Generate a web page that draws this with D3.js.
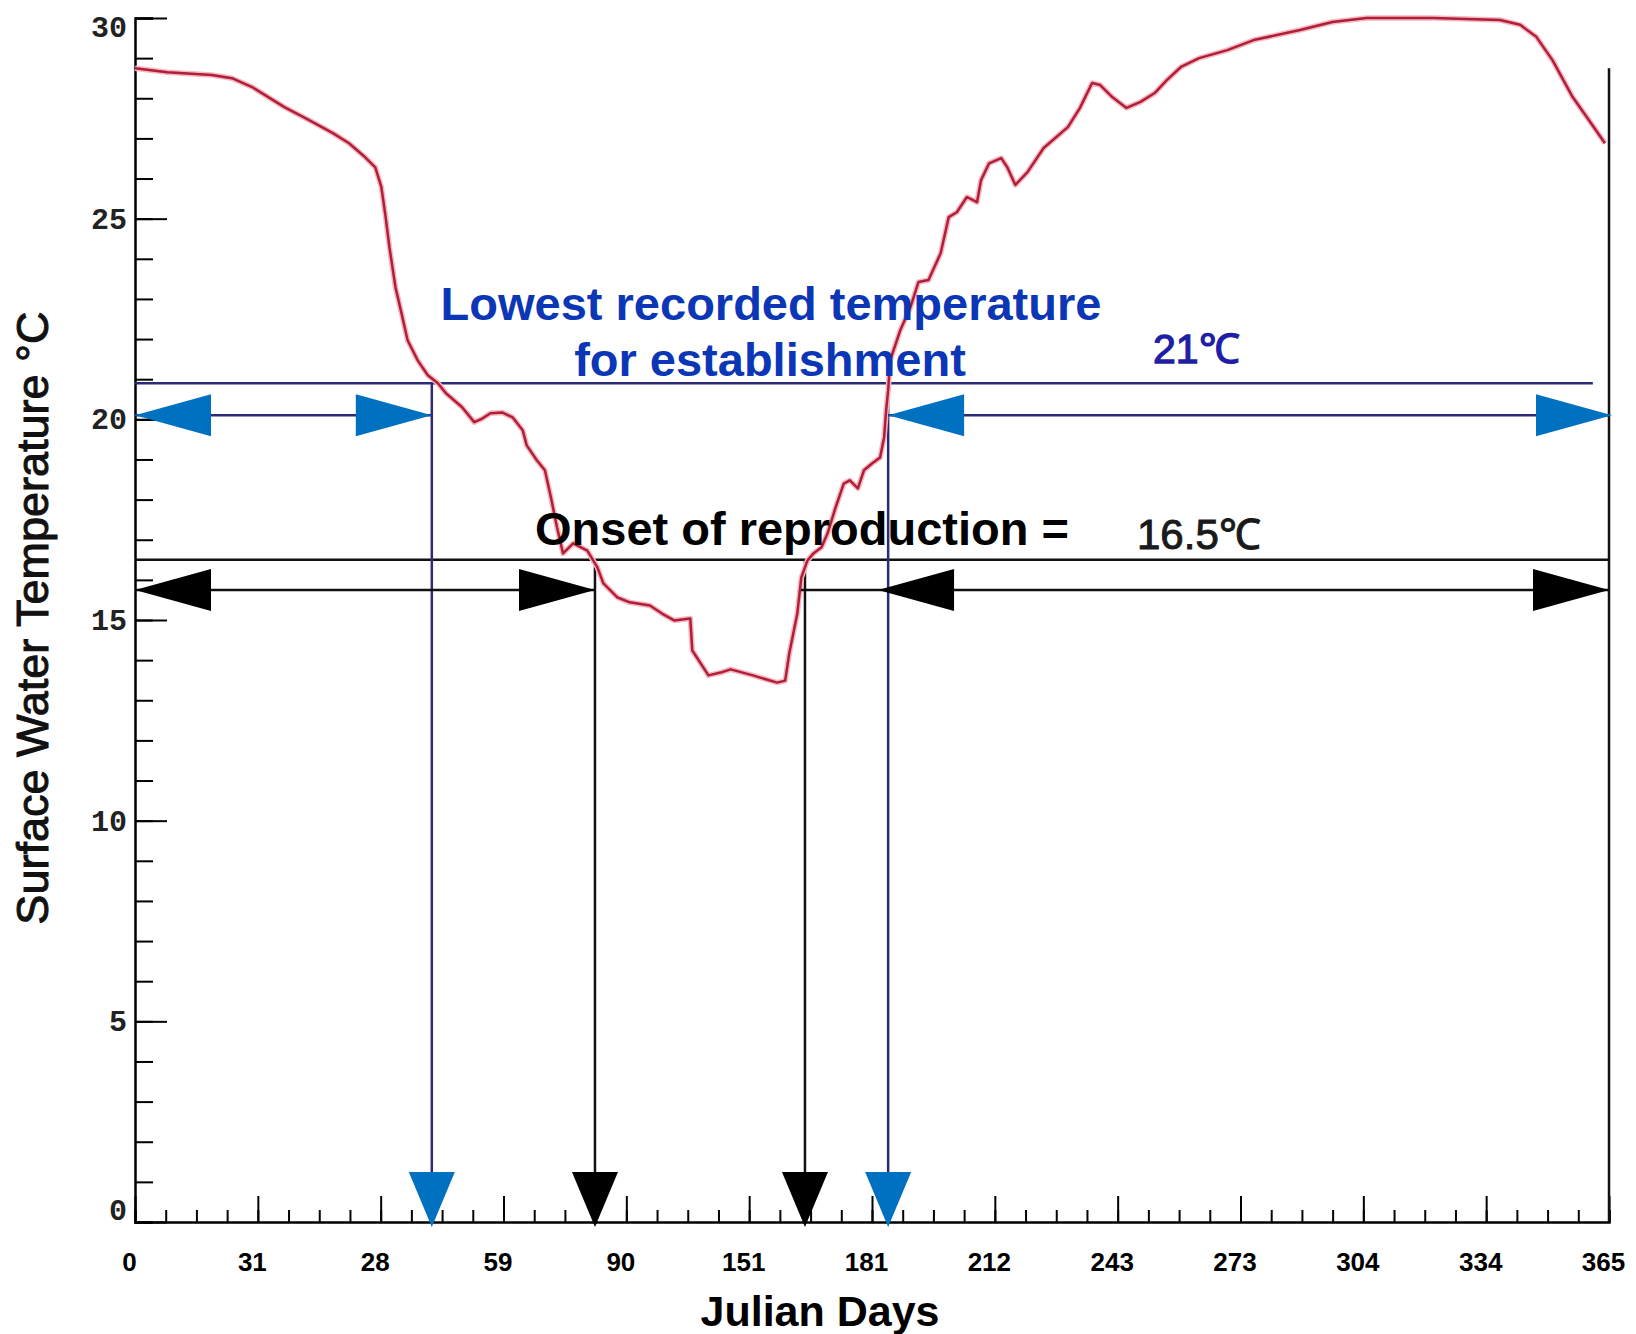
<!DOCTYPE html>
<html>
<head>
<meta charset="utf-8">
<script src="https://cdn.jsdelivr.net/npm/d3@7"></script>
<style>
  body { margin: 0; background: #fff; }
  svg { display: block; }
</style>
</head>
<body>
<div id="chart"></div>
<script>
// surface water temperature over the year (Julian day, degrees C)
var days  = [0, 8, 19, 24, 29, 37, 43, 49, 53, 57, 59.5, 61, 62, 63, 64.5, 66, 67.5, 70, 72.5, 75,
             77, 81, 84, 86, 88, 91, 93.5, 96, 97, 99.5, 101.5, 103, 104.5, 106, 108.5, 112, 114.5, 116,
             119.5, 122.5, 127.5, 130.5, 133.5, 137.5, 138, 142, 145, 147.5, 153, 159, 161, 162, 164, 165,
             166.5, 168, 170, 171.5, 173.5, 175.5, 177, 179, 180.5, 182.5, 184.5, 185.5, 186, 186.5, 187,
             189.5, 192, 194, 196.5, 199.5, 201.5, 203.5, 206, 208.5, 209.5, 211.5, 214.5, 216, 218, 221,
             225, 231, 234, 237, 239, 242, 245.5, 249, 252.5, 255.5, 259, 263.5, 270.5, 277, 288.5, 296.5,
             305, 321.5, 338, 343, 347, 351, 356, 360, 364];
var temps = [28.75, 28.65, 28.58, 28.5, 28.28, 27.78, 27.46, 27.13, 26.88, 26.53, 26.28, 25.79, 25.09,
             24.29, 23.29, 22.64, 21.97, 21.47, 21.1, 20.9, 20.65, 20.3, 19.93, 20.02, 20.15, 20.17, 20.05,
             19.73, 19.35, 18.98, 18.73, 18.05, 17.31, 16.66, 16.91, 16.73, 16.31, 15.91, 15.56, 15.44,
             15.36, 15.16, 14.99, 15.04, 14.24, 13.62, 13.69, 13.77, 13.62, 13.44, 13.49, 14.16, 15.16,
             16.06, 16.48, 16.66, 16.81, 17.16, 17.81, 18.4, 18.48, 18.28, 18.73, 18.9, 19.05, 19.55, 20.22,
             20.72, 21.47, 22.22, 22.79, 23.42, 23.47, 24.14, 25.04, 25.16, 25.54, 25.41, 25.96, 26.38,
             26.51, 26.28, 25.84, 26.16, 26.76, 27.28, 27.76, 28.38, 28.33, 28.03, 27.76, 27.91, 28.13,
             28.45, 28.78, 29.0, 29.2, 29.45, 29.7, 29.9, 30.0, 30.0, 29.95, 29.83, 29.53, 28.95, 28.03,
             27.46, 26.88];

// axis labels (as printed on the original figure)
var x_labels = ['0', '31', '28', '59', '90', '151', '181', '212', '243', '273', '304', '334', '365'];
var y_labels = [0, 5, 10, 15, 20, 25, 30];

// thresholds
var establish_temp  = 20.9;          // drawn "21°C" line
var establish_days  = [73.5, 186.5]; // curve crosses it
var establish_arrow = 20.1;
var repro_temp      = 16.5;
var repro_days      = [113.9, 165.9];
var repro_arrow     = 15.75;
var last_day        = 365;

var width  = 1636;
var height = 1334;

var x = d3.scaleLinear().domain([0, 365]).range([135, 1609]);
var y = d3.scaleLinear().domain([0, 30]).range([1222, 18]);

var svg = d3.select('#chart')
  .append('svg')
  .attr('width', width)
  .attr('height', height);

var font = "'Liberation Sans', Arial, sans-serif";

// ---- axes ----
var major_x = d3.range(13).map(function(i) { return i * 365 / 12; });
var minor_x = d3.range(49).map(function(i) { return i * 365 / 48; });

svg.append('g')
  .attr('transform', 'translate(0,' + y(0) + ')')
  .call(d3.axisTop(x).tickValues(minor_x).tickSize(12).tickFormat(''))
  .call(function(g) {
    g.select('.domain').attr('stroke-width', 2.5);
    g.selectAll('.tick line').attr('stroke-width', 2);
  });

svg.append('g')
  .attr('transform', 'translate(0,' + y(0) + ')')
  .call(d3.axisTop(x).tickValues(major_x).tickSize(26).tickFormat(''))
  .call(function(g) {
    g.select('.domain').remove();
    g.selectAll('.tick line').attr('stroke-width', 2);
  });

svg.append('g')
  .attr('transform', 'translate(0,' + y(0) + ')')
  .call(d3.axisBottom(x).tickValues(major_x).tickSize(0).tickPadding(31)
    .tickFormat(function(d, i) { return x_labels[i]; }))
  .call(function(g) {
    g.select('.domain').remove();
    g.selectAll('text')
      .attr('dx', -6)
      .style('font-family', font)
      .style('font-weight', 'bold')
      .style('font-size', '26px')
      .attr('fill', '#000');
  });

svg.append('g')
  .attr('transform', 'translate(' + x(0) + ',0)')
  .call(d3.axisRight(y).tickValues(d3.range(31)).tickSize(18).tickFormat(''))
  .call(function(g) {
    g.select('.domain').attr('stroke-width', 2.5);
    g.selectAll('.tick line').attr('stroke-width', 2);
  });

svg.append('g')
  .attr('transform', 'translate(' + x(0) + ',0)')
  .call(d3.axisRight(y).tickValues(y_labels).tickSize(32).tickFormat(''))
  .call(function(g) {
    g.select('.domain').remove();
    g.selectAll('.tick line').attr('stroke-width', 2);
  });

svg.append('g')
  .attr('transform', 'translate(' + x(0) + ',0)')
  .call(d3.axisLeft(y).tickValues(y_labels).tickSize(0).tickPadding(8))
  .call(function(g) {
    g.select('.domain').remove();
    g.selectAll('text')
      .style('font-family', "'Liberation Mono', 'DejaVu Sans Mono', monospace")
      .style('font-weight', 'bold')
      .style('font-size', '30px')
      .attr('fill', '#222')
      .attr('dy', function(d) { return d === 30 ? '0.62em' : d === 0 ? '-0.08em' : '0.32em'; });
  });

// right closing line
svg.append('line')
  .attr('x1', x(last_day)).attr('x2', x(last_day))
  .attr('y1', y(temps[0])).attr('y2', y(0))
  .attr('stroke', '#111').attr('stroke-width', 2.5);

// ---- threshold lines ----
var navy = '#2b2b7a';
var blue = '#0070c0';

svg.append('line')
  .attr('x1', x(0)).attr('x2', x(361))
  .attr('y1', y(establish_temp)).attr('y2', y(establish_temp))
  .attr('stroke', navy).attr('stroke-width', 2.5);

svg.append('line')
  .attr('x1', x(0)).attr('x2', x(last_day))
  .attr('y1', y(repro_temp)).attr('y2', y(repro_temp))
  .attr('stroke', '#111').attr('stroke-width', 2.5);

// vertical drop lines
establish_days.forEach(function(d) {
  svg.append('line')
    .attr('x1', x(d)).attr('x2', x(d))
    .attr('y1', y(establish_temp)).attr('y2', y(0) - 50)
    .attr('stroke', navy).attr('stroke-width', 2.5);
});
repro_days.forEach(function(d) {
  svg.append('line')
    .attr('x1', x(d)).attr('x2', x(d))
    .attr('y1', y(repro_temp)).attr('y2', y(0) - 50)
    .attr('stroke', '#111').attr('stroke-width', 2.5);
});

// ---- curve ----
var line = d3.line()
  .x(function(d, i) { return x(d); })
  .y(function(d, i) { return y(temps[i]); });

svg.append('path')
  .datum(days)
  .attr('d', line)
  .attr('fill', 'none')
  .attr('stroke', '#f4b8c2')
  .attr('stroke-width', 5.5)
  .attr('stroke-linejoin', 'round');

svg.append('path')
  .datum(days)
  .attr('d', line)
  .attr('fill', 'none')
  .attr('stroke', '#b01e38')
  .attr('stroke-width', 2.5)
  .attr('stroke-linejoin', 'round');

// ---- arrows ----
var head_len = 76, head_half = 21;

function head(tx, ty, dir, color) {
  // dir = -1 points left, 1 points right
  var bx = tx - dir * head_len;
  svg.append('path')
    .attr('d', 'M' + tx + ',' + ty + 'L' + bx + ',' + (ty - head_half) + 'L' + bx + ',' + (ty + head_half) + 'Z')
    .attr('fill', color);
}

function shaft(d0, d1, t, color) {
  svg.append('line')
    .attr('x1', x(d0)).attr('x2', x(d1))
    .attr('y1', y(t)).attr('y2', y(t))
    .attr('stroke', color).attr('stroke-width', 2.5);
}

function down(d, color) {
  var cx = x(d), tip = y(0) + 5;
  svg.append('path')
    .attr('d', 'M' + cx + ',' + tip + 'L' + (cx - 23) + ',' + (tip - 55) + 'L' + (cx + 23) + ',' + (tip - 55) + 'Z')
    .attr('fill', color);
}

// establishment (blue)
shaft(0, establish_days[0], establish_arrow, navy);
head(x(0), y(establish_arrow), -1, blue);
head(x(establish_days[0]), y(establish_arrow), 1, blue);
shaft(establish_days[1], last_day, establish_arrow, navy);
head(x(establish_days[1]), y(establish_arrow), -1, blue);
head(x(last_day) + 3, y(establish_arrow), 1, blue);

// reproduction (black)
shaft(0, repro_days[0], repro_arrow, '#111');
head(x(0), y(repro_arrow), -1, '#000');
head(x(repro_days[0]), y(repro_arrow), 1, '#000');
shaft(repro_days[1] - 1, last_day, repro_arrow, '#111');
head(x(184), y(repro_arrow), -1, '#000');
head(x(last_day), y(repro_arrow), 1, '#000');

down(establish_days[0], blue);
down(repro_days[0], '#000');
down(repro_days[1], '#000');
down(establish_days[1], blue);

// ---- annotations ----
svg.append('text')
  .attr('x', 771).attr('y', 320)
  .attr('text-anchor', 'middle')
  .style('font-family', font).style('font-weight', 'bold').style('font-size', '47px')
  .attr('fill', '#0b36b5')
  .text('Lowest recorded temperature');

svg.append('text')
  .attr('x', 770).attr('y', 376)
  .attr('text-anchor', 'middle')
  .style('font-family', font).style('font-weight', 'bold').style('font-size', '47px')
  .attr('fill', '#0b36b5')
  .text('for establishment');

svg.append('text')
  .attr('x', 1153).attr('y', 363)
  .style('font-family', font).style('font-size', '41px')
  .attr('fill', '#1f1fa5')
  .attr('stroke', '#1f1fa5').attr('stroke-width', 1.3)
  .text('21℃');

svg.append('text')
  .attr('x', 535).attr('y', 545)
  .style('font-family', font).style('font-weight', 'bold').style('font-size', '47px')
  .attr('fill', '#000')
  .text('Onset of reproduction =');

svg.append('text')
  .attr('x', 1137).attr('y', 549)
  .style('font-family', font).style('font-size', '42px')
  .attr('fill', '#1a1a1a')
  .attr('stroke', '#1a1a1a').attr('stroke-width', 1)
  .text('16.5℃');

// axis titles
svg.append('text')
  .attr('transform', 'translate(48,618) rotate(-90)')
  .attr('text-anchor', 'middle')
  .style('font-family', font).style('font-size', '45px')
  .attr('fill', '#111')
  .attr('stroke', '#111').attr('stroke-width', 1)
  .text('Surface Water Temperature °C');

svg.append('text')
  .attr('x', 820).attr('y', 1326)
  .attr('text-anchor', 'middle')
  .style('font-family', font).style('font-weight', 'bold').style('font-size', '43px')
  .attr('fill', '#000')
  .text('Julian Days');
</script>
</body>
</html>
